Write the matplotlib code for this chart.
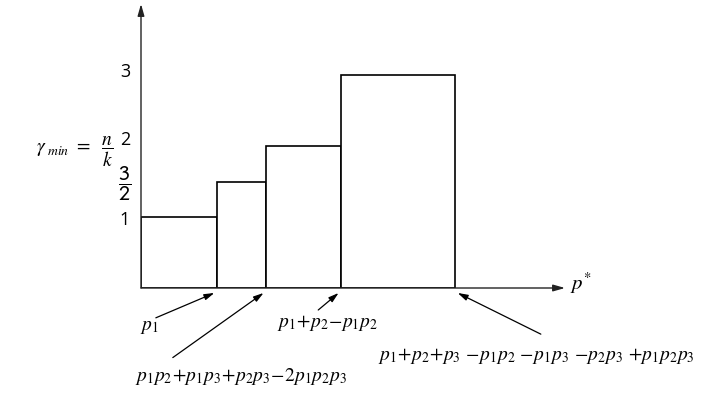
import matplotlib.pyplot as plt
import numpy as np

plt.rcParams['mathtext.fontset'] = 'stix'
plt.rcParams['font.family'] = ['Open Sans', 'DejaVu Sans']

# bar edges along p* (fraction of the axis length) and gamma_min heights
edges = [0.0, 0.179, 0.295, 0.472, 0.741]
heights = [1, 1.5, 2, 3]
tick_vals = [1, 1.5, 2, 3]
tick_text = ['1', r'$\dfrac{\mathsf{3}}{\mathsf{2}}$', '2', '3']

edge_labels = [r'$p_{1}$',
               r'$p_{1}p_{2}\!+\!p_{1}p_{3}\!+\!p_{2}p_{3}\!-\!2p_{1}p_{2}p_{3}$',
               r'$p_{1}\!+\!p_{2}\!-\!p_{1}p_{2}$',
               r'$p_{1}\!+\!p_{2}\!+\!p_{3}\ \!-\!p_{1}p_{2}\ \!-\!p_{1}p_{3}\ \!-\!p_{2}p_{3}\ \!+\!p_{1}p_{2}p_{3}$']
label_pos = [(-0.003, -0.55), (-0.015, -1.25), (0.32, -0.49), (0.56, -0.96)]
arrow_tail = [(0.035, -0.42), (0.075, -0.98), (0.418, -0.31), (0.943, -0.65)]

fig = plt.figure(figsize=(7.18, 3.96), dpi=100)
ax = fig.add_axes([141/718, 108/396, 424/718, 284/396])
ax.set_xlim(0, 1)
ax.set_ylim(0, 4)
ax.axis('off')

widths = np.diff(edges)
ax.bar(edges[:-1], heights, width=widths, align='edge', color='white',
       edgecolor='black', linewidth=1.2, zorder=2)

# axes with arrows
ax.annotate('', xy=(1.0, 0), xytext=(0, 0), annotation_clip=False,
            arrowprops=dict(arrowstyle='-|>,head_length=0.7,head_width=0.2',
                            color='#222222', lw=1.0, shrinkA=0, shrinkB=0))
ax.annotate('', xy=(0, 4.0), xytext=(0, 0), annotation_clip=False,
            arrowprops=dict(arrowstyle='-|>,head_length=0.7,head_width=0.2',
                            color='#222222', lw=1.0, shrinkA=0, shrinkB=0))

ax.text(1.012, 0.07, r'$p^{*}$', fontsize=15, ha='left', va='center')

# y tick labels
offs = [-0.04, -0.03, 0.08, 0.04]
sizes = [13, 16, 13, 13]
for v, t, o, s in zip(tick_vals, tick_text, offs, sizes):
    ax.text(-0.038, v + o, t, fontsize=s, ha='center', va='center',
            clip_on=False)

ax.text(-0.064, 1.92, r'$\gamma_{\ min}\ =\ \ \dfrac{n}{k}$', fontsize=14,
        ha='right', va='center', clip_on=False)

# labels with arrows at the bar edges
for e, lab, pos, tail in zip(edges[1:], edge_labels, label_pos, arrow_tail):
    ax.text(pos[0], pos[1], lab, fontsize=14, ha='left', va='center',
            clip_on=False)
    ax.annotate('', xy=(e - 0.006 if e < 0.7 else e + 0.006, -0.07), xytext=tail,
                annotation_clip=False,
                arrowprops=dict(arrowstyle='-|>,head_length=0.6,head_width=0.18',
                                color='black', lw=0.9, shrinkA=0, shrinkB=0))

fig.savefig('out.png', dpi=100)
